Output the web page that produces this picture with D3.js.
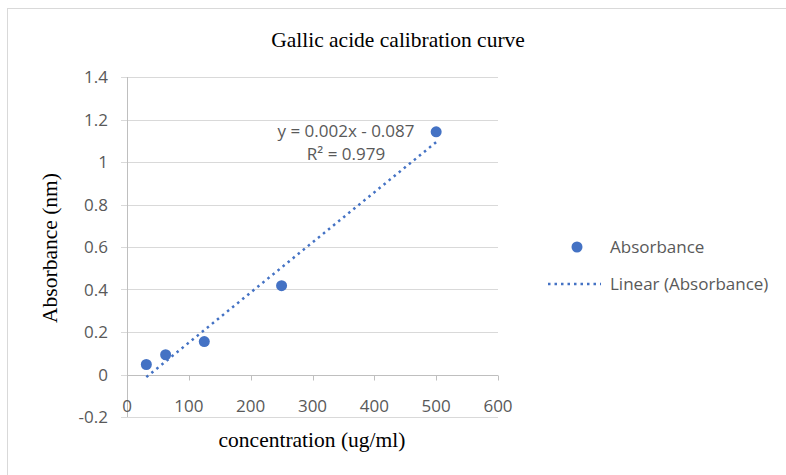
<!DOCTYPE html>
<html>
<head>
<meta charset="utf-8">
<script src="https://cdn.jsdelivr.net/npm/d3@7"></script>
<style>
  body { margin: 0; background: #fff; }
  svg { display: block; }
</style>
</head>
<body>
<svg id="canvas" width="786" height="475"></svg>
<script>
// calibration data
const concentrations = [31.25, 62.5, 125, 250, 500];
const absorbances = [0.047, 0.093, 0.155, 0.418, 1.142];
const xTicks = [0, 100, 200, 300, 400, 500, 600];
const yTicks = [-0.2, 0, 0.2, 0.4, 0.6, 0.8, 1, 1.2, 1.4];
// trendline label as printed on the chart
const equationLines = ["y = 0.002x - 0.087", "R² = 0.979"];

const blue = "#4472C4";
const grey = "#595959";
const sans = "'Open Sans', Roboto, sans-serif";
const serif = "'Liberation Serif', 'Times New Roman', serif";
const fs = 17;

const svg = d3.select("#canvas");

// chart border (only top & left are in frame)
svg
  .append("rect")
  .attr("x", 7.5)
  .attr("y", 8.5)
  .attr("width", 800)
  .attr("height", 500)
  .attr("fill", "none")
  .attr("stroke", "#d9d9d9");

const x = d3.scaleLinear().domain([0, 600]).range([127, 498]);
const y = d3.scaleLinear().domain([-0.2, 1.4]).range([417, 77]);

// gridlines
svg
  .selectAll(".grid")
  .data(yTicks)
  .enter()
  .append("line")
  .attr("x1", 121)
  .attr("x2", x(600))
  .attr("y1", (d) => Math.round(y(d)) + 0.5)
  .attr("y2", (d) => Math.round(y(d)) + 0.5)
  .attr("stroke", "#d9d9d9");

// y axis line
svg
  .append("line")
  .attr("x1", x(0) + 0.5)
  .attr("x2", x(0) + 0.5)
  .attr("y1", y(1.4))
  .attr("y2", y(-0.2))
  .attr("stroke", "#bfbfbf");

// x axis line at y = 0 with ticks below
const x0 = Math.round(y(0)) + 0.5;
svg
  .append("line")
  .attr("x1", x(0))
  .attr("x2", x(600))
  .attr("y1", x0)
  .attr("y2", x0)
  .attr("stroke", "#bfbfbf");

svg
  .selectAll(".xtick")
  .data(xTicks)
  .enter()
  .append("line")
  .attr("x1", (d) => Math.round(x(d)) + 0.5)
  .attr("x2", (d) => Math.round(x(d)) + 0.5)
  .attr("y1", x0)
  .attr("y2", x0 + 5)
  .attr("stroke", "#bfbfbf");

// tick labels
svg
  .selectAll(".ylabel")
  .data(yTicks)
  .enter()
  .append("text")
  .attr("x", 108)
  .attr("y", (d) => y(d) + 6)
  .attr("text-anchor", "end")
  .attr("font-family", sans)
  .attr("font-size", fs)
  .attr("fill", grey)
  .text((d) => String(d));

svg
  .selectAll(".xlabel")
  .data(xTicks)
  .enter()
  .append("text")
  .attr("x", (d) => x(d))
  .attr("y", 412)
  .attr("text-anchor", "middle")
  .attr("font-family", sans)
  .attr("font-size", fs)
  .attr("fill", grey)
  .text((d) => d);

// linear trendline (least squares)
const mx = d3.mean(concentrations);
const my = d3.mean(absorbances);
let sxy = 0, sxx = 0;
concentrations.forEach((c, i) => {
  sxy += (c - mx) * (absorbances[i] - my);
  sxx += (c - mx) ** 2;
});
const slope = sxy / sxx;
const intercept = my - slope * mx;

const xMin = d3.min(concentrations);
const xMax = d3.max(concentrations);
svg
  .append("line")
  .attr("x1", x(xMin))
  .attr("y1", y(slope * xMin + intercept))
  .attr("x2", x(xMax))
  .attr("y2", y(slope * xMax + intercept))
  .attr("stroke", blue)
  .attr("stroke-width", 2.5)
  .attr("stroke-dasharray", "2.5,4");

// points
svg
  .selectAll(".dot")
  .data(concentrations)
  .enter()
  .append("circle")
  .attr("cx", (d) => x(d))
  .attr("cy", (d, i) => y(absorbances[i]))
  .attr("r", 5.5)
  .attr("fill", blue);

// equation label
svg
  .selectAll(".eq")
  .data(equationLines)
  .enter()
  .append("text")
  .attr("x", 346)
  .attr("y", (d, i) => 137 + i * 23)
  .attr("text-anchor", "middle")
  .attr("font-family", sans)
  .attr("font-size", fs)
  .attr("fill", grey)
  .text((d) => d);

// titles
svg
  .append("text")
  .attr("x", 398)
  .attr("y", 47)
  .attr("text-anchor", "middle")
  .attr("font-family", serif)
  .attr("font-size", 21.5)
  .attr("fill", "#000")
  .text("Gallic acide calibration curve");

svg
  .append("text")
  .attr("x", 312)
  .attr("y", 447)
  .attr("text-anchor", "middle")
  .attr("font-family", serif)
  .attr("font-size", 21.5)
  .attr("fill", "#000")
  .text("concentration (ug/ml)");

svg
  .append("text")
  .attr("transform", "translate(57,248) rotate(-90)")
  .attr("text-anchor", "middle")
  .attr("font-family", serif)
  .attr("font-size", 21.5)
  .attr("fill", "#000")
  .text("Absorbance (nm)");

// legend
const legend = svg.append("g");
legend
  .append("circle")
  .attr("cx", 577)
  .attr("cy", 247)
  .attr("r", 5.5)
  .attr("fill", blue);
legend
  .append("text")
  .attr("x", 610)
  .attr("y", 253)
  .attr("font-family", sans)
  .attr("font-size", fs)
  .attr("fill", grey)
  .text("Absorbance");
legend
  .append("line")
  .attr("x1", 548)
  .attr("x2", 601)
  .attr("y1", 284)
  .attr("y2", 284)
  .attr("stroke", blue)
  .attr("stroke-width", 2.5)
  .attr("stroke-dasharray", "2.5,4");
legend
  .append("text")
  .attr("x", 610)
  .attr("y", 290)
  .attr("font-family", sans)
  .attr("font-size", fs)
  .attr("fill", grey)
  .text("Linear (Absorbance)");
</script>
</body>
</html>
